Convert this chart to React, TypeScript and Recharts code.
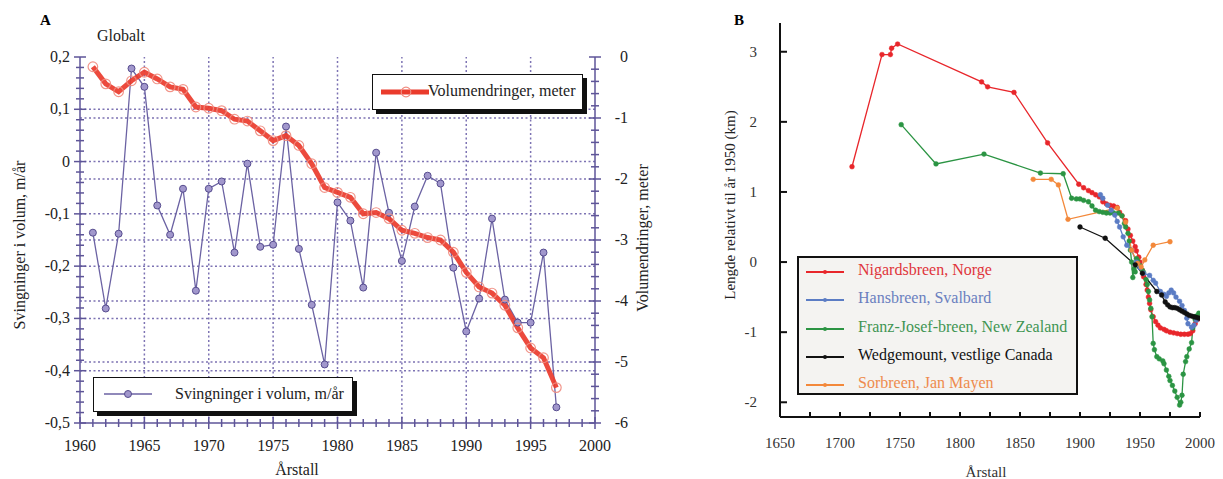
import React from "react";
import { LineChart, Line, XAxis, YAxis, ReferenceLine } from "recharts";

const FONT = "'Liberation Serif', 'DejaVu Serif', serif";
const PURPLE = "#5e5598";
const GRID = "#7d73b3";

// ---- Panel A: global volume changes ----
const yearsA = [
  1961, 1962, 1963, 1964, 1965, 1966, 1967, 1968, 1969, 1970, 1971, 1972, 1973,
  1974, 1975, 1976, 1977, 1978, 1979, 1980, 1981, 1982, 1983, 1984, 1985, 1986,
  1987, 1988, 1989, 1990, 1991, 1992, 1993, 1994, 1995, 1996, 1997,
];
const svingninger = [
  -0.136, -0.281, -0.138, 0.178, 0.143, -0.084, -0.14, -0.052, -0.247, -0.052,
  -0.038, -0.174, -0.004, -0.163, -0.159, 0.067, -0.167, -0.274, -0.388, -0.078,
  -0.113, -0.241, 0.017, -0.098, -0.19, -0.086, -0.027, -0.042, -0.203, -0.325,
  -0.262, -0.109, -0.264, -0.308, -0.308, -0.174, -0.47,
];
const volumendringer = [
  -0.16, -0.44, -0.57, -0.39, -0.25, -0.36, -0.49, -0.53, -0.82, -0.84, -0.88,
  -1.02, -1.05, -1.21, -1.37, -1.29, -1.45, -1.75, -2.14, -2.22, -2.3, -2.57,
  -2.55, -2.65, -2.84, -2.89, -2.96, -3.0, -3.2, -3.53, -3.77, -3.87, -4.07,
  -4.44, -4.77, -4.93, -5.42,
];
const xLabelsA = [1960, 1965, 1970, 1975, 1980, 1985, 1990, 1995, 2000];
const leftLabelsA = [0.2, 0.1, 0, -0.1, -0.2, -0.3, -0.4, -0.5];
const rightLabelsA = [0, -1, -2, -3, -4, -5, -6];

const yearTicks = Array.from({ length: 41 }, (_, i) => 1960 + i);
const leftTicks = Array.from({ length: 36 }, (_, i) => Math.round((-0.5 + i * 0.02) * 100) / 100);
const rightTicks = Array.from({ length: 31 }, (_, i) => Math.round((-6 + i * 0.2) * 10) / 10);

const dataA = yearsA.map((year, i) => ({ year, sv: svingninger[i], vol: volumendringer[i] }));

// ---- Panel B: glacier length relative to 1950 ----
const nigardsbreen: [number, number][] = [
  [1710, 1.36], [1735, 2.96], [1742, 2.96], [1743, 3.05], [1748, 3.11], [1818, 2.57],
  [1823, 2.5], [1845, 2.42], [1873, 1.7], [1899, 1.11], [1903, 1.06], [1907, 1.02],
  [1910, 0.99], [1913, 0.96], [1916, 0.93], [1919, 0.86], [1922, 0.83], [1925, 0.81],
  [1928, 0.8], [1931, 0.78], [1933, 0.71], [1935, 0.66], [1938, 0.59], [1940, 0.47],
  [1942, 0.38], [1944, 0.3], [1946, 0.22], [1947, 0.16], [1949, 0.07], [1950, 0],
  [1952, -0.12], [1953, -0.21], [1955, -0.32], [1956, -0.4], [1957, -0.5], [1958, -0.59],
  [1959, -0.68], [1961, -0.78], [1963, -0.85], [1965, -0.9], [1967, -0.94], [1970, -0.96],
  [1972, -0.98], [1975, -1.0], [1978, -1.01], [1981, -1.02], [1984, -1.03], [1987, -1.03],
  [1990, -1.03], [1992, -1.02], [1994, -0.98], [1996, -0.88], [1998, -0.82], [2000, -0.78],
];
const hansbreen: [number, number][] = [
  [1917, 0.96], [1919, 0.91], [1923, 0.81], [1926, 0.74], [1929, 0.67], [1931, 0.58],
  [1933, 0.5], [1936, 0.36], [1939, 0.24], [1943, 0.17], [1947, 0.0], [1950, -0.08],
  [1953, -0.16], [1958, -0.19], [1961, -0.26], [1963, -0.3], [1967, -0.42], [1970, -0.46],
  [1972, -0.49], [1974, -0.44], [1976, -0.4], [1978, -0.44], [1980, -0.5], [1983, -0.56],
  [1985, -0.62], [1987, -0.69], [1989, -0.8], [1990, -0.88], [1993, -0.93], [1995, -0.9],
  [1997, -0.83],
];
const franzJosef: [number, number][] = [
  [1751, 1.96], [1780, 1.4], [1820, 1.54], [1867, 1.27], [1886, 1.26], [1893, 0.91],
  [1897, 0.9], [1900, 0.9], [1903, 0.88], [1907, 0.86], [1910, 0.8], [1913, 0.74],
  [1916, 0.72], [1919, 0.71], [1922, 0.7], [1925, 0.7], [1928, 0.7], [1932, 0.7],
  [1935, 0.66], [1937, 0.55], [1938, 0.5], [1940, 0.41], [1941, 0.3], [1942, 0.17],
  [1943, 0.0], [1944, -0.22], [1945, -0.1], [1946, -0.14], [1947, 0.05], [1948, 0.02],
  [1950, -0.05], [1952, -0.12], [1953, -0.15], [1955, -0.25], [1956, -0.32], [1957, -0.42],
  [1958, -0.54], [1959, -0.66], [1960, -0.78], [1961, -1.16], [1962, -1.25], [1964, -1.35],
  [1966, -1.38], [1969, -1.41], [1970, -1.45], [1972, -1.54], [1974, -1.63], [1975, -1.69],
  [1977, -1.76], [1979, -1.84], [1981, -1.93], [1983, -2.04], [1984, -2.0], [1985, -1.9],
  [1986, -1.6], [1988, -1.42], [1989, -1.35], [1991, -1.24], [1993, -1.15], [1994, -0.94],
  [1996, -0.82], [1997, -0.77], [1999, -0.73],
];
const wedgemount: [number, number][] = [
  [1900, 0.5], [1921, 0.34], [1946, -0.04], [1952, -0.16], [1964, -0.42], [1968, -0.47],
  [1971, -0.57], [1973, -0.61], [1975, -0.64], [1977, -0.65], [1979, -0.65], [1981, -0.66],
  [1983, -0.68], [1985, -0.7], [1987, -0.72], [1989, -0.74], [1991, -0.76], [1993, -0.77],
  [1995, -0.78], [1997, -0.79], [1999, -0.8],
];
const sorbreen: [number, number][] = [
  [1861, 1.18], [1876, 1.18], [1882, 1.1], [1890, 0.61], [1931, 0.77], [1938, 0.57],
  [1943, 0.17], [1948, -0.02], [1951, -0.07], [1954, 0.03], [1961, 0.24], [1975, 0.29],
];

const xTicksB = [1650, 1675, 1700, 1725, 1750, 1775, 1800, 1825, 1850, 1875, 1900, 1925, 1950, 1975, 2000];
const yTicksB = [-2, -1, 0, 1, 2, 3];

const seriesB = [
  { name: "Nigardsbreen, Norge", color: "#e8262b", text: "#e0353b", points: nigardsbreen },
  { name: "Hansbreen, Svalbard", color: "#5b7cc4", text: "#6a7fbf", points: hansbreen },
  { name: "Franz-Josef-breen, New Zealand", color: "#2b9443", text: "#3f9553", points: franzJosef },
  { name: "Wedgemount, vestlige Canada", color: "#111111", text: "#111111", points: wedgemount },
  { name: "Sorbreen, Jan Mayen", color: "#f3883a", text: "#ee8b4d", points: sorbreen },
];
const drawOrder = [0, 2, 1, 4, 3];

const fmt = (v: number) => (v === 0 ? "0" : String(v).replace(".", ","));
const near = (list: number[], v: number) => list.some((l) => Math.abs(l - v) < 1e-6);

const tickA = (side: string) => (props: any) => {
  const { x, y, payload } = props;
  const v = payload.value;
  if (side === "bottom" || side === "top") {
    const major = near(xLabelsA, v);
    const len = major ? 6 : 4;
    return (
      <g>
        <line x1={x} x2={x} y1={y - len} y2={y + len} stroke={PURPLE} strokeWidth={1.5} />
        {side === "bottom" && major && (
          <text x={x} y={y + 28} textAnchor="middle" fontSize={16} fontFamily={FONT} fill="#222">{v}</text>
        )}
      </g>
    );
  }
  const labels = side === "left" ? leftLabelsA : rightLabelsA;
  const major = near(labels, v);
  const len = major ? 6 : 4;
  return (
    <g>
      <line x1={x - len} x2={x + len} y1={y} y2={y} stroke={PURPLE} strokeWidth={1.5} />
      {major && (
        <text x={side === "left" ? x - 10 : x + 33} y={y + 5} textAnchor="end" fontSize={16} fontFamily={FONT} fill="#222">
          {fmt(v)}
        </text>
      )}
    </g>
  );
};

const tickB = (side: string) => (props: any) => {
  const { x, y, payload } = props;
  const v = payload.value;
  if (side === "bottom") {
    return (
      <g>
        <line x1={x} x2={x} y1={y} y2={y - 5} stroke="#111" strokeWidth={2} />
        {v % 50 === 0 && (
          <text x={x} y={y + 31} textAnchor="middle" fontSize={15} fontFamily={FONT} fill="#333">{v}</text>
        )}
      </g>
    );
  }
  if (side === "top") return <line x1={x} x2={x} y1={y} y2={y + 5} stroke="#111" strokeWidth={2} />;
  if (side === "left") {
    return (
      <g>
        <line x1={x} x2={x + 7} y1={y} y2={y} stroke="#111" strokeWidth={2} />
        <text x={x - 23} y={y + 5} textAnchor="end" fontSize={15} fontFamily={FONT} fill="#333">{v}</text>
      </g>
    );
  }
  return <line x1={x - 7} x2={x} y1={y} y2={y} stroke="#111" strokeWidth={2} />;
};

const abs = (left: number, top: number, extra: React.CSSProperties = {}): React.CSSProperties => ({
  position: "absolute",
  left,
  top,
  fontFamily: FONT,
  whiteSpace: "nowrap",
  ...extra,
});

const rotated = (cx: number, cy: number, size: number): React.CSSProperties =>
  abs(cx, cy, { transform: "translate(-50%, -50%) rotate(-90deg)", fontSize: size, color: "#222" });

export default function App() {
  const axisA = { stroke: PURPLE, strokeWidth: 1.5 };
  const axisB = { stroke: "#111", strokeWidth: 2 };
  return (
    <div style={{ position: "absolute", left: 0, top: 0, width: 1223, height: 479, background: "#fff" }}>
      <div style={{ position: "absolute", left: 0, top: 0 }}>
        <LineChart width={660} height={479} data={dataA} margin={{ top: 57, right: 20, bottom: 26, left: 0 }}>
          <XAxis dataKey="year" type="number" domain={[1960, 2000]} ticks={yearTicks} interval={0}
            tickSize={0} tickMargin={0} height={30} axisLine={axisA} tick={tickA("bottom")} allowDataOverflow />
          <XAxis xAxisId="top" orientation="top" type="number" domain={[1960, 2000]} ticks={yearTicks} interval={0}
            tickSize={0} tickMargin={0} height={0} axisLine={axisA} tick={tickA("top")} allowDataOverflow />
          <YAxis yAxisId="left" type="number" domain={[-0.5, 0.2]} ticks={leftTicks} interval={0}
            tickSize={0} tickMargin={0} width={80} axisLine={axisA} tick={tickA("left")} allowDataOverflow />
          <YAxis yAxisId="right" orientation="right" type="number" domain={[-6, 0]} ticks={rightTicks} interval={0}
            tickSize={0} tickMargin={0} width={45} axisLine={axisA} tick={tickA("right")} allowDataOverflow />
          {[0.1, 0, -0.1, -0.2, -0.3, -0.4].map((v) => (
            <ReferenceLine key={"l" + v} yAxisId="left" y={v} stroke={GRID} strokeWidth={1.5} strokeDasharray="2 2.5" />
          ))}
          {[-1, -2, -3, -4, -5].map((v) => (
            <ReferenceLine key={"r" + v} yAxisId="right" y={v} stroke={GRID} strokeWidth={1.5} strokeDasharray="2 2.5" />
          ))}
          {[1965, 1970, 1975, 1980, 1985, 1990, 1995].map((v) => (
            <ReferenceLine key={"x" + v} yAxisId="left" x={v} stroke={GRID} strokeWidth={1.5} strokeDasharray="2 2.5" />
          ))}
          <Line yAxisId="left" dataKey="sv" stroke="#6b62a3" strokeWidth={1.3}
            dot={{ r: 3.5, fill: "#a197cc", stroke: "#564c8e", strokeWidth: 1 }} isAnimationActive={false} />
          <Line yAxisId="right" dataKey="vol" stroke="#ea3b2c" strokeWidth={5} strokeOpacity={0.92}
            dot={{ r: 4.8, fill: "none", stroke: "#f08c80", strokeWidth: 1.2 }} isAnimationActive={false} />
        </LineChart>
      </div>

      <div style={{ position: "absolute", left: 660, top: 0 }}>
        <LineChart width={563} height={479} margin={{ top: 23, right: 23, bottom: 32, left: 0 }}>
          <XAxis dataKey="year" type="number" domain={[1650, 2000]} ticks={xTicksB} interval={0}
            tickSize={0} tickMargin={0} height={30} axisLine={axisB} tick={tickB("bottom")} allowDataOverflow />
          <XAxis xAxisId="top" orientation="top" type="number" domain={[1650, 2000]} ticks={xTicksB} interval={0}
            tickSize={0} tickMargin={0} height={0} axisLine={axisB} tick={tickB("top")} allowDataOverflow />
          <YAxis yAxisId="l" type="number" domain={[-2.21, 3.41]} ticks={yTicksB} interval={0}
            tickSize={0} tickMargin={0} width={120} axisLine={axisB} tick={tickB("left")} allowDataOverflow />
          <YAxis yAxisId="r" orientation="right" type="number" domain={[-2.21, 3.41]} ticks={yTicksB} interval={0}
            tickSize={0} tickMargin={0} width={0} axisLine={axisB} tick={tickB("right")} allowDataOverflow />
          {drawOrder.map((i) => {
            const s = seriesB[i];
            return (
              <Line key={s.name} yAxisId="l" data={s.points.map(([year, v]) => ({ year, v }))} dataKey="v"
                stroke={s.color} strokeWidth={1.3} dot={{ r: 2.4, fill: s.color, stroke: s.color, strokeWidth: 0.5 }}
                isAnimationActive={false} />
            );
          })}
        </LineChart>
      </div>

      {/* Panel A texts */}
      <div style={abs(40, 12, { fontSize: 15, fontWeight: "bold" })}>A</div>
      <div style={abs(97, 27, { fontSize: 16, color: "#222" })}>Globalt</div>
      <div style={rotated(20, 245, 16)}>Svingninger i volum, m/år</div>
      <div style={rotated(643, 238, 16)}>Volumendringer, meter</div>
      <div style={abs(297, 470, { fontSize: 16, color: "#222", transform: "translate(-50%, -50%)" })}>Årstall</div>

      <div style={abs(372, 74, { width: 211, height: 36, border: "1.5px solid #111", background: "#fff", boxShadow: "4px 4px 0 #111", boxSizing: "border-box" })}>
        <svg width={50} height={34} style={{ position: "absolute", left: 6, top: 0 }}>
          <line x1={2} x2={50} y1={17} y2={17} stroke="#ea3b2c" strokeWidth={5} />
          <circle cx={27} cy={17} r={4.8} fill="none" stroke="#f08c80" strokeWidth={1.2} />
        </svg>
        <span style={{ position: "absolute", left: 55, top: 7, fontSize: 16, color: "#222" }}>Volumendringer, meter</span>
      </div>
      <div style={abs(93, 377, { width: 260, height: 35, border: "1.5px solid #111", background: "#fff", boxShadow: "4px 4px 0 #111", boxSizing: "border-box" })}>
        <svg width={56} height={33} style={{ position: "absolute", left: 8, top: 0 }}>
          <line x1={2} x2={50} y1={16} y2={16} stroke="#6b62a3" strokeWidth={1.3} />
          <circle cx={26} cy={16} r={3.5} fill="#a197cc" stroke="#564c8e" strokeWidth={1} />
        </svg>
        <span style={{ position: "absolute", left: 81, top: 7, fontSize: 16, color: "#222" }}>Svingninger i volum, m/år</span>
      </div>

      {/* Panel B texts */}
      <div style={abs(734, 12, { fontSize: 15, fontWeight: "bold" })}>B</div>
      <div style={rotated(730, 205, 15)}>Lengde relativt til år 1950 (km)</div>
      <div style={abs(986, 472, { fontSize: 15, color: "#333", transform: "translate(-50%, -50%)" })}>Årstall</div>

      <div style={abs(797, 256, { width: 281, height: 139, border: "2px solid #111", background: "#f4f3f1", boxSizing: "border-box" })}>
        {seriesB.map((s, i) => (
          <div key={s.name} style={{ position: "absolute", left: 0, top: 2 + i * 28.3, height: 24, width: 276 }}>
            <svg width={44} height={24} style={{ position: "absolute", left: 5, top: 0 }}>
              <line x1={2} x2={40} y1={12} y2={12} stroke={s.color} strokeWidth={2} />
              <circle cx={21} cy={12} r={2} fill={s.color} />
            </svg>
            <span style={{ position: "absolute", left: 59, top: 1, fontSize: 16, color: s.text }}>{s.name}</span>
          </div>
        ))}
      </div>
    </div>
  );
}
